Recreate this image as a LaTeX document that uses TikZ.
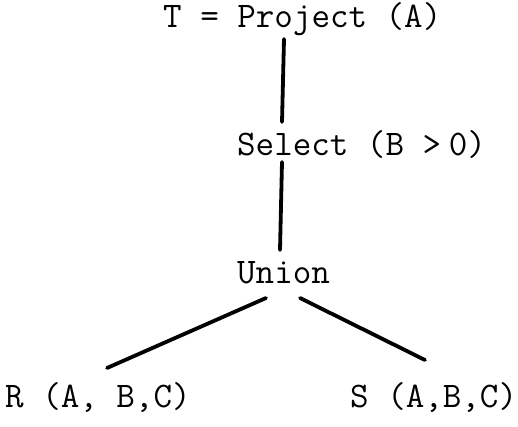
\documentclass[tikz,border=0pt]{standalone}
\usetikzlibrary{calc}
\begin{document}
\begin{tikzpicture}[x=1pt,y=-1pt,
  lbl/.style={inner sep=0pt,anchor=base west,font=\fontsize{36}{40}\selectfont\ttfamily},
  edge/.style={line width=3.8pt,line cap=round,black}]
\useasboundingbox (0,0) rectangle (518,427);
\node[lbl] (proj)  at (163,28)  {T = Project (A)};
\node[lbl] (sel)   at (237,156) {Select (B > \kern-0.3em0)};
\node[lbl] (union) at (237,283) {Union};
\node[lbl] (r)     at (5,407)   {R (A, B,C)};
\node[lbl] (s)     at (350,407) {S (A,B,C)};
\draw[edge] ($(proj.base west)+(121,11)$) -- ($(sel.base west)+(45,-34)$);
\draw[edge] ($(sel.base west)+(45,6)$) -- ($(union.base west)+(43,-33)$);
\draw[edge] ($(union.base west)+(29,15)$) -- ($(r.base west)+(102,-39)$);
\draw[edge] ($(union.base west)+(63,15)$) -- ($(s.base west)+(75,-47)$);
\end{tikzpicture}
\end{document}
